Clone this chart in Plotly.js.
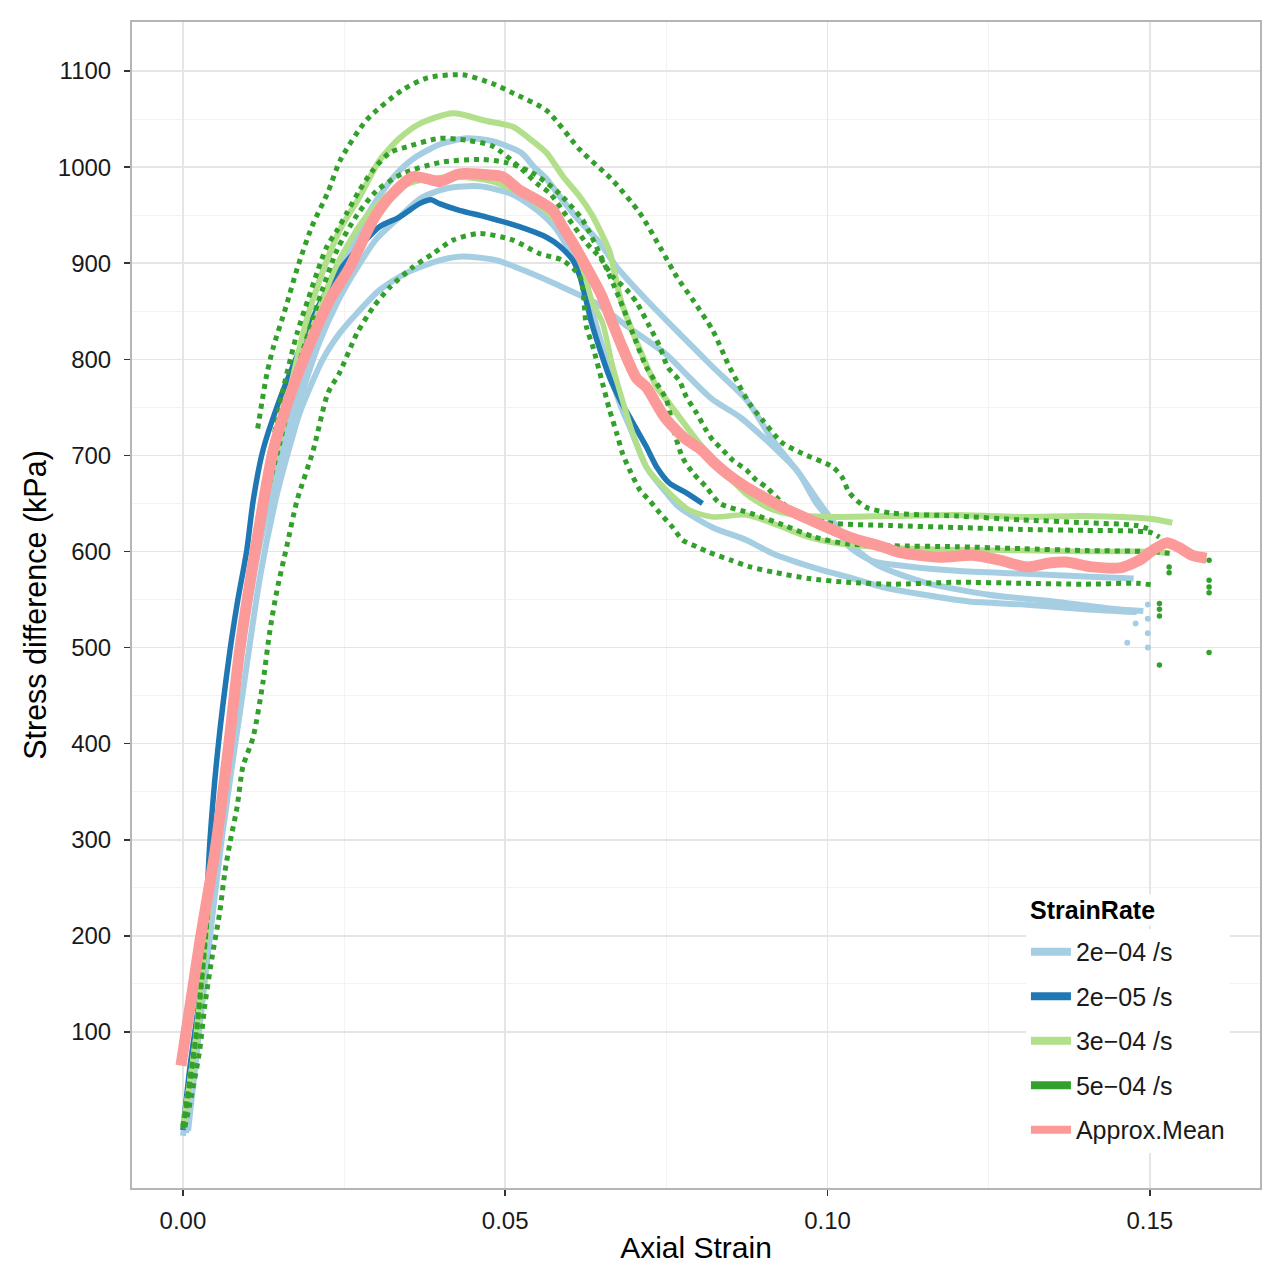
<!DOCTYPE html>
<html>
<head>
<meta charset="utf-8">
<script src="https://cdn.plot.ly/plotly-3.0.1.min.js"></script>
<style>
body{margin:0;background:#fff;}
#drawGraph{width:1280px;height:1277px;}
</style>
</head>
<body>
<div id="drawGraph"></div>
<script>
// 2e-04 /s runs (three tests)
let lbAStrain = [0.0005,0.002,0.004,0.006,0.008,0.010,0.012,0.015,0.0177,0.021,0.024,0.027,0.030,0.033,0.036,0.040,0.044,0.048,0.0525,0.0545,0.0564,0.0584,0.061,0.0647,0.0673,0.0719,0.077,0.0822,0.0874,0.0915,0.0957,0.0983,0.1008,0.1034,0.107,0.112,0.120,0.130,0.140,0.1475];
let lbAStress = [-5,90,230,350,450,550,630,705,765,830,885,930,965,992,1010,1024,1030,1027,1015,1000,988,970,948,921,896,862,827,792,758,716,680,650,630,605,590,585,580,577,574,572];
let lbBStrain = [0.0,0.002,0.004,0.006,0.008,0.010,0.012,0.015,0.018,0.021,0.024,0.027,0.030,0.0336,0.037,0.041,0.046,0.051,0.055,0.058,0.0605,0.062,0.0635,0.065,0.0665,0.068,0.0693,0.0719,0.075,0.077,0.0822,0.0874,0.0915,0.098,0.1034,0.1085,0.115,0.122,0.130,0.140,0.148];
let lbBStress = [-8,80,215,335,440,535,610,690,755,815,860,895,925,948,968,978,980,972,955,935,905,880,850,815,780,750,730,688,661,646,625,612,598,583,573,563,555,548,545,540,537];
let lbCStrain = [0.0008,0.003,0.006,0.009,0.012,0.0146,0.0166,0.0181,0.0217,0.0243,0.027,0.0305,0.0347,0.0398,0.0434,0.0487,0.0538,0.0589,0.0642,0.069,0.075,0.0786,0.0822,0.0864,0.0905,0.093,0.0952,0.0983,0.101,0.104,0.108,0.115,0.125,0.135,0.145,0.149];
let lbCStress = [-3,130,300,440,575,660,710,744,800,827,848,872,890,903,907,903,890,875,858,834,805,781,758,740,716,700,685,655,630,605,585,568,555,548,540,538];
let lbTailStrain = [0.1465,0.1478,0.1497,0.1497,0.1497,0.1497];
let lbTailStress = [505,525,545,530,515,500];

// 2e-05 /s run
let dbStrain = [0.0,0.0011,0.0031,0.0042,0.0054,0.0073,0.0085,0.0099,0.0109,0.0124,0.015,0.0181,0.021,0.024,0.0274,0.0305,0.0336,0.0367,0.0385,0.0398,0.0429,0.0471,0.0522,0.0564,0.0584,0.0605,0.0616,0.0626,0.0634,0.0647,0.0662,0.0678,0.0698,0.0719,0.0735,0.0755,0.0781,0.0806];
let dbStress = [-2,64,164,300,393,497,549,601,653,705,758,810,855,890,917,938,948,962,966,962,955,948,938,927,918,903,886,860,838,810,781,758,734,709,688,671,661,650];

// 3e-04 /s runs
let lgAStrain = [0.0,0.002,0.004,0.006,0.008,0.010,0.012,0.015,0.0192,0.0208,0.0243,0.0274,0.0305,0.0336,0.0367,0.0419,0.0471,0.0512,0.0537,0.0564,0.059,0.0615,0.0635,0.065,0.0662,0.068,0.0709,0.0735,0.075,0.0797,0.0833,0.0874,0.091,0.095,0.100,0.110,0.120,0.130,0.140,0.150,0.1535];
let lgAStress = [0,90,230,345,450,545,625,720,841,875,934,969,1007,1030,1045,1056,1048,1042,1030,1015,990,970,950,930,912,860,810,771,758,716,688,660,645,638,636,637,638,636,637,634,630];
let lgBStrain = [0.0,0.002,0.004,0.006,0.008,0.010,0.012,0.015,0.018,0.021,0.024,0.028,0.032,0.036,0.042,0.048,0.053,0.057,0.060,0.062,0.0635,0.0651,0.0667,0.0698,0.0719,0.075,0.0786,0.0822,0.0874,0.092,0.097,0.103,0.110,0.120,0.130,0.140,0.150,0.153];
let lgBStress = [0,95,235,350,455,550,630,715,790,850,900,945,972,985,990,985,970,950,925,895,860,838,792,723,688,664,643,636,638,628,615,607,604,602,601,600,600,598];

// 5e-04 /s runs
let dgAStrain = [0.0116,0.0130,0.0140,0.0160,0.0178,0.0200,0.0225,0.0244,0.0285,0.0340,0.0380,0.0434,0.0480,0.0512,0.0564,0.0616,0.0667,0.0709,0.0740,0.0766,0.0791,0.0822,0.0848,0.0879,0.0899,0.0930,0.0961,0.1008,0.1023,0.1034,0.1060,0.1100,0.1200,0.1300,0.1400,0.1480,0.1505];
let dgAStress = [728,784,812,855,896,938,974,1007,1049,1080,1093,1096,1087,1077,1059,1018,986,952,917,886,862,830,792,754,737,713,702,688,677,661,646,640,637,633,630,627,622];
let dgBStrain = [0.0,0.002,0.004,0.006,0.008,0.010,0.012,0.0153,0.0177,0.0194,0.0208,0.0223,0.0239,0.0254,0.0274,0.0295,0.0321,0.0347,0.0398,0.044,0.048,0.0522,0.0549,0.0569,0.0589,0.0626,0.0647,0.0667,0.0689,0.0705,0.0724,0.074,0.0752,0.077,0.0781,0.0797,0.0812,0.0822,0.0837,0.0853,0.0874,0.089,0.0905,0.0926,0.095,0.100,0.110,0.120,0.130,0.140,0.150,0.1515];
let dgBStress = [2,95,235,350,460,560,640,761,827,862,890,917,934,952,976,997,1015,1021,1030,1028,1022,1000,983,973,955,921,906,886,872,858,834,813,792,778,761,744,726,716,706,695,685,674,667,653,640,630,627,625,623,622,620,615];
let dgCStrain = [0.0,0.002,0.004,0.006,0.008,0.010,0.012,0.015,0.018,0.021,0.024,0.027,0.030,0.034,0.040,0.046,0.050,0.054,0.058,0.062,0.065,0.0678,0.0698,0.0719,0.075,0.076,0.0775,0.0791,0.0812,0.0833,0.088,0.093,0.098,0.103,0.110,0.120,0.130,0.140,0.150,0.1535];
let dgCStress = [0,92,232,348,455,553,632,712,795,860,915,950,975,993,1005,1008,1005,995,975,945,905,862,827,792,758,730,698,682,667,650,640,628,615,608,606,605,603,601,600,598];
let dgDStrain = [0.0003,0.0014,0.0026,0.0034,0.0045,0.0057,0.0065,0.0073,0.0084,0.0093,0.0109,0.0124,0.0135,0.0146,0.0161,0.0177,0.0202,0.0225,0.0243,0.027,0.0295,0.0321,0.0357,0.0388,0.0419,0.046,0.0512,0.0553,0.0589,0.0616,0.0626,0.0636,0.0651,0.0662,0.0673,0.0682,0.0693,0.0709,0.0724,0.074,0.076,0.0775,0.0797,0.0817,0.085,0.088,0.092,0.097,0.103,0.110,0.120,0.130,0.140,0.148,0.1505];
let dgDStress = [1,36,81,128,177,224,266,297,334,376,407,463,518,560,605,653,705,765,786,827,854,875,896,910,924,931,924,910,903,886,834,813,775,747,723,702,685,664,653,640,625,612,605,599,591,584,578,572,568,566,568,567,566,567,565];
let dgTailStrain = [0.1515,0.1515,0.1515,0.1515,0.153,0.153,0.1592,0.1592,0.1592,0.1592,0.1592];
let dgTailStress = [546,540,533,482,584,578,591,570,563,557,495];

// approximate mean curve
let meanStrain = [-0.0003,0.0026,0.005,0.007,0.0088,0.0112,0.014,0.0165,0.0192,0.0228,0.0259,0.0295,0.0321,0.0357,0.0378,0.0398,0.0429,0.0471,0.0496,0.0522,0.0549,0.0574,0.0589,0.0605,0.0626,0.0649,0.0665,0.0682,0.0704,0.0719,0.0747,0.0778,0.0804,0.0825,0.0846,0.0874,0.0900,0.093,0.0983,0.1034,0.1085,0.1112,0.1174,0.1225,0.1267,0.1309,0.1344,0.137,0.1411,0.1453,0.1484,0.1504,0.1526,0.1546,0.1566,0.1588];
let meanStress = [65,193,289,393,497,601,705,760,808,862,896,945,969,990,988,985,993,992,990,976,966,955,938,921,896,867,840,812,780,771,740,718,706,692,680,667,657,646,630,615,605,599,594,596,591,584,588,589,584,583,591,601,609,604,596,593];

let rateNames = ['2e\u221204 /s','2e\u221205 /s','3e\u221204 /s','5e\u221204 /s','Approx.Mean'];
let rateColors = ['#A6CEE3','#1F78B4','#B2DF8A','#33A02C','#FB9A99'];

let yTicks = [100,200,300,400,500,600,700,800,900,1000,1100];
let yMinor = [150,250,350,450,550,650,750,850,950,1050];
let xTicks = [0,0.05,0.10,0.15];
let xTickText = ['0.00','0.05','0.10','0.15'];
let xMinor = [0.025,0.075,0.125];

function run(x, y, color, width, dash){
    return {x: x, y: y, type: 'scatter', mode: 'lines', showlegend: false, hoverinfo: 'skip',
        line: {color: color, width: width, dash: dash || 'solid', shape: 'spline', smoothing: 0.7}};
}
function tail(x, y, color, size){
    return {x: x, y: y, type: 'scatter', mode: 'markers', showlegend: false, hoverinfo: 'skip',
        marker: {color: color, size: size}};
}

let dots = '5px,5px';
let graph = [
    run(lbAStrain, lbAStress, rateColors[0], 6),
    run(lbBStrain, lbBStress, rateColors[0], 6),
    run(lbCStrain, lbCStress, rateColors[0], 6),
    tail(lbTailStrain, lbTailStress, rateColors[0], 6),
    run(dbStrain, dbStress, rateColors[1], 5.5),
    run(lgAStrain, lgAStress, rateColors[2], 6),
    run(lgBStrain, lgBStress, rateColors[2], 5.5),
    run(dgAStrain, dgAStress, rateColors[3], 5, dots),
    run(dgBStrain, dgBStress, rateColors[3], 5, dots),
    run(dgCStrain, dgCStress, rateColors[3], 5, dots),
    run(dgDStrain, dgDStress, rateColors[3], 5, dots),
    tail(dgTailStrain, dgTailStress, rateColors[3], 5.5),
    run(meanStrain, meanStress, rateColors[4], 11)
];

// legend entries only
for (let i = 0; i < rateNames.length; i++) {
    graph.push({x: [null], y: [null], type: 'scatter', mode: 'lines', name: rateNames[i],
        legendgroup: 'g' + i, line: {color: rateColors[i], width: 8}});
}

let layout = {
    width: 1280, height: 1277,
    margin: {l: 132, r: 20, t: 22, b: 89},
    paper_bgcolor: '#ffffff', plot_bgcolor: '#ffffff',
    font: {family: 'Liberation Sans, Arial, sans-serif', color: '#1a1a1a', size: 24},
    xaxis: {
        range: [-0.0079, 0.1671], tickvals: xTicks, ticktext: xTickText,
        ticks: 'outside', ticklen: 6, tickwidth: 1.5, tickcolor: '#333333',
        showgrid: true, gridcolor: '#E5E5E5', gridwidth: 1.5, zeroline: false,
        minor: {tickvals: xMinor, showgrid: true, gridcolor: '#F3F3F3', gridwidth: 1, ticklen: 0},
        showline: true, mirror: true, linecolor: '#B5B5B5', linewidth: 2,
        tickfont: {size: 24, color: '#1a1a1a'}, ticklabelstandoff: 4,
        title: {text: 'Axial Strain', font: {size: 30, color: '#000'}, standoff: 4}
    },
    yaxis: {
        range: [-62.3, 1151], tickvals: yTicks,
        ticks: 'outside', ticklen: 6, tickwidth: 1.5, tickcolor: '#333333',
        showgrid: true, gridcolor: '#E5E5E5', gridwidth: 1.5, zeroline: false,
        minor: {tickvals: yMinor, showgrid: true, gridcolor: '#F3F3F3', gridwidth: 1, ticklen: 0},
        showline: true, mirror: true, linecolor: '#B5B5B5', linewidth: 2,
        tickfont: {size: 24, color: '#1a1a1a'}, ticklabelstandoff: 8,
        title: {text: 'Stress difference (kPa)', font: {size: 30.5, color: '#000'}, standoff: 2}
    },
    showlegend: true,
    legend: {
        x: 0.7925, y: 0.2222, xanchor: 'left', yanchor: 'top',
        bgcolor: '#ffffff', borderwidth: 0,
        font: {size: 25, color: '#1a1a1a'},
        itemwidth: 40, tracegroupgap: 9, traceorder: 'grouped'
    },
    annotations: [{
        text: '<b>StrainRate</b>', xref: 'paper', yref: 'paper',
        x: 0.7943, y: 0.2384, xanchor: 'left', yanchor: 'middle', showarrow: false,
        font: {size: 25, color: '#000'}, bgcolor: '#ffffff'
    }]
};

drawGraph = document.getElementById('drawGraph');
Plotly.newPlot(drawGraph, graph, layout, {staticPlot: true});
</script>
</body>
</html>
